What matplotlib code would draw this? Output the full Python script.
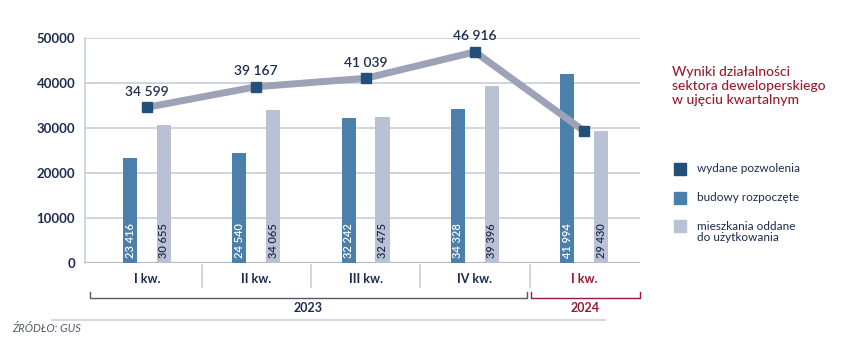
import matplotlib
matplotlib.use("Agg")
import matplotlib.pyplot as plt
import matplotlib.transforms as mtransforms
import numpy as np

plt.rcParams['font.family'] = ['Lato', 'DejaVu Sans']

categories = ["I kw.", "II kw.", "III kw.", "IV kw.", "I kw."]
years = ["2023", "2024"]
pozwolenia = [34599, 39167, 41039, 46916, 29300]
pozwolenia_labels = ["34 599", "39 167", "41 039", "46 916", ""]
rozpoczete = [23416, 24540, 32242, 34328, 41994]
rozpoczete_labels = ["23 416", "24 540", "32 242", "34 328", "41 994"]
oddane = [30655, 34065, 32475, 39396, 29430]
oddane_labels = ["30 655", "34 065", "32 475", "39 396", "29 430"]
yticks = [0, 10000, 20000, 30000, 40000, 50000]

NAVY = "#1d2b50"
DARK = "#22507a"
MID = "#4a80aa"
LIGHT = "#b9c1d4"
LINE = "#9da2b6"
GRID = "#cdd1dc"
RED = "#9b1b30"

W, H = 844, 363
fig = plt.figure(figsize=(W/100, H/100), dpi=100)
ax = fig.add_axes([85/W, 1-263/H, (640-85)/W, (263-38)/H])

x = np.arange(len(categories))
bw = 0.13
off = 0.155
ax.bar(x - off, rozpoczete, width=bw, color=MID, zorder=3)
ax.bar(x + off, oddane, width=bw, color=LIGHT, zorder=3)
ax.plot(x, pozwolenia, color=LINE, lw=5, zorder=4, solid_capstyle='butt')
ax.plot(x, pozwolenia, ls='none', marker='s', ms=7, color=DARK, zorder=5)

for i in range(len(x)):
    ax.text(x[i] - off, 1000, rozpoczete_labels[i], rotation=90, ha='center', va='bottom',
            color='white', fontsize=8, fontweight='semibold', zorder=6)
    ax.text(x[i] + off, 1000, oddane_labels[i], rotation=90, ha='center', va='bottom',
            color=NAVY, fontsize=8, fontweight='semibold', zorder=6)
    if pozwolenia_labels[i]:
        ax.annotate(pozwolenia_labels[i], (x[i], pozwolenia[i]), xytext=(0, 7),
                    textcoords='offset points', ha='center', va='bottom', color=NAVY,
                    fontsize=10, fontweight='semibold', annotation_clip=False)

ax.set_xlim(-0.567, 4.51)
ax.set_ylim(0, 50000)
ax.set_yticks(yticks)
ax.set_yticklabels([str(v) for v in yticks], color=NAVY, fontsize=9.5, fontweight='bold')
ax.tick_params(axis='y', length=0, pad=7)
ax.set_xticks([])
ax.grid(axis='y', color=GRID, lw=1.3, zorder=0)
for s in ['top', 'right', 'bottom']:
    ax.spines[s].set_visible(False)
ax.spines['left'].set_color(GRID)
ax.spines['left'].set_linewidth(1.3)
ax.axhline(0, color="#b5bac8", lw=1.6, zorder=2)

trans = mtransforms.blended_transform_factory(ax.transData, ax.transAxes)
for i, c in enumerate(categories):
    ax.text(x[i], -0.071, c, transform=trans, ha='center', va='center',
            color=RED if i == 4 else NAVY, fontsize=9, fontweight='bold')
for b in [0.5, 1.5, 2.5, 3.5]:
    ax.plot([b, b], [-0.009, -0.107], transform=trans, color=GRID, lw=1.3, clip_on=False)

yb = -0.1556
ax.plot([-0.52, -0.52, 3.475, 3.475], [yb + 0.025, yb, yb, yb + 0.025], transform=trans,
        color="#555a66", lw=1, clip_on=False)
ax.plot([3.515, 3.515, 4.51, 4.51], [yb + 0.025, yb, yb, yb + 0.025], transform=trans,
        color=RED, lw=1, clip_on=False)
ax.text((-0.52 + 3.475) / 2, -0.2, years[0], transform=trans, ha='center', va='center',
        color=NAVY, fontsize=9, fontweight='bold')
ax.text((3.515 + 4.51) / 2, -0.2, years[1], transform=trans, ha='center', va='center',
        color=RED, fontsize=9, fontweight='bold')

fig.add_artist(plt.Line2D([52/W, 605/W], [1-320/H, 1-320/H], color=GRID, lw=1.2))
fig.text(12/W, 1-328/H, "ŹRÓDŁO: GUS", fontsize=8, style='italic', color="#555a66",
         ha='left', va='center')

fig.text(672/W, 1-86/H, "Wyniki działalności\nsektora deweloperskiego\nw ujęciu kwartalnym",
         color=RED, fontsize=10, fontweight='medium', ha='left', va='center', linespacing=1.2)

legend_items = [(DARK, "wydane pozwolenia", 169, 169), (MID, "budowy rozpoczęte", 198, 198),
                (LIGHT, "mieszkania oddane\ndo użytkowania", 232, 226)]
for col, lab, yy, sq_y in legend_items:
    fig.add_artist(plt.Rectangle((674/W, 1-(sq_y+6)/H), 12/W, 12/H, color=col,
                                 transform=fig.transFigure))
    fig.text(697/W, 1-yy/H, lab, color=NAVY, fontsize=8.5, ha='left', va='center',
             linespacing=1.05)

fig.savefig("out.png", dpi=100)
